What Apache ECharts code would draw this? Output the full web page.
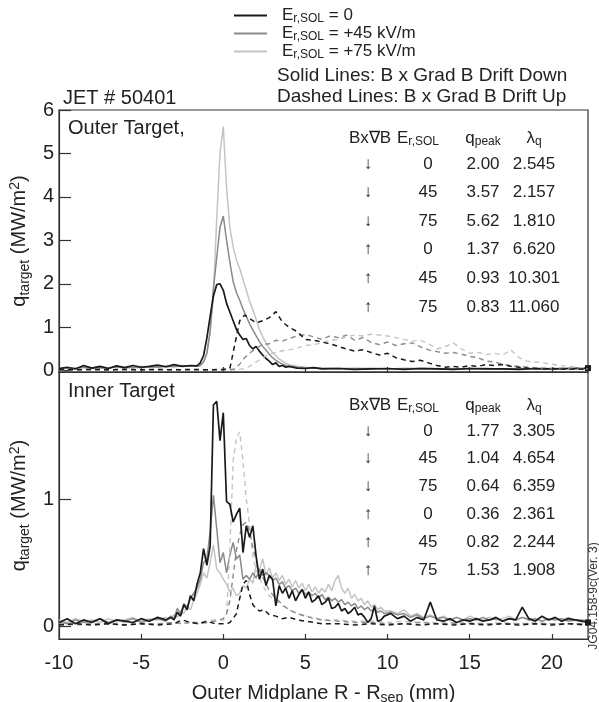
<!DOCTYPE html>
<html><head><meta charset="utf-8">
<script src="https://cdn.jsdelivr.net/npm/echarts@6/dist/echarts.min.js"></script>
<style>html,body{margin:0;padding:0;background:#fff}#c{width:599px;height:702px}</style>
</head><body><div id="c"></div>
<script>
// ---------- DATA ----------
const legendNames = ['E0', 'E45', 'E75'];
const legendValues = ['0', '+45 kV/m', '+75 kV/m'];

// Outer target, solid (BxgradB down)
const outerSolidX = [-10,-9.5,-9,-8.5,-8,-7.5,-7,-6.5,-6,-5.5,-5,-4.5,-4,-3.5,-3,-2.5,-2,
  -1.6,-1.4,-1.2,-1.0,-0.8,-0.6,-0.4,-0.2,0,0.2,0.4,0.6,0.8,1.0,1.2,1.4,1.6,1.8,2.0,2.2,2.4,2.6,2.8,3.0,3.2,3.4,3.6,3.8,4.0,
  4.5,5,5.5,6,7,8,9,10,11,12,13,14,15,16,17,18,19,20,21,22.2];
const outerDown0 = [0.05,0.08,0.04,0.12,0.06,0.10,0.05,0.11,0.07,0.12,0.08,0.10,0.13,0.09,0.14,0.10,0.12,
  0.11,0.18,0.35,0.75,1.25,1.72,1.98,2.00,1.85,1.55,1.35,1.15,0.95,0.82,0.72,0.74,0.58,0.50,0.56,0.45,0.36,0.28,0.22,0.14,0.18,0.10,0.12,0.08,0.10,
  0.06,0.05,0.07,0.04,0.05,0.03,0.04,0.05,0.03,0.05,0.04,0.03,0.05,0.04,0.04,0.03,0.05,0.04,0.05,0.06];
const outerDown45 = [0.04,0.06,0.05,0.08,0.05,0.07,0.06,0.09,0.06,0.08,0.07,0.09,0.08,0.10,0.09,0.11,0.10,
  0.10,0.12,0.20,0.40,0.90,1.90,2.60,3.30,3.56,3.00,2.50,2.05,1.80,1.62,1.42,1.25,1.08,0.94,0.80,0.67,0.56,0.47,0.38,0.30,0.24,0.19,0.15,0.12,0.10,
  0.08,0.07,0.06,0.05,0.05,0.04,0.05,0.04,0.05,0.04,0.04,0.05,0.04,0.05,0.04,0.05,0.04,0.04,0.05,0.05];
const outerDown75 = [0.05,0.07,0.06,0.08,0.07,0.09,0.07,0.08,0.09,0.07,0.10,0.08,0.11,0.09,0.10,0.12,0.11,
  0.10,0.12,0.20,0.40,0.90,1.70,3.50,5.00,5.62,4.20,3.30,2.85,2.55,2.35,2.10,1.85,1.60,1.40,1.18,0.95,0.78,0.64,0.52,0.42,0.34,0.27,0.22,0.17,0.14,
  0.10,0.08,0.07,0.06,0.05,0.06,0.05,0.04,0.05,0.06,0.05,0.04,0.05,0.05,0.04,0.05,0.04,0.05,0.04,0.05];

// Outer target, dashed (BxgradB up)
const outerDashedX = [-10,-9,-8,-7,-6,-5,-4,-3,-2,-1,0,0.4,0.7,1.0,1.3,1.6,2.0,2.4,2.8,3.2,3.6,4.0,
  4.5,5.0,5.5,6.0,6.5,7.0,7.5,8.0,8.5,9.0,9.5,10.0,10.5,11.0,11.5,12.0,12.5,13.0,13.5,14.0,14.5,15.0,15.5,16.0,16.5,17.0,17.5,18.0,18.5,19.0,19.5,20.0,20.5,21.0,21.5,22.2];
const outerUp0 = [0.03,0.02,0.03,0.02,0.03,0.02,0.03,0.02,0.03,0.02,0.03,0.05,0.60,1.15,1.28,1.20,1.10,1.15,1.22,1.36,1.12,1.00,
  0.90,0.72,0.70,0.66,0.62,0.56,0.50,0.45,0.48,0.42,0.36,0.40,0.30,0.25,0.21,0.24,0.18,0.12,0.08,0.10,
  0.08,0.12,0.10,0.14,0.12,0.14,0.10,0.08,0.06,0.05,0.04,0.05,0.04,0.03,0.04,0.03];
const outerUp45 = [0.02,0.03,0.02,0.02,0.03,0.02,0.02,0.03,0.02,0.02,0.02,0.02,0.04,0.15,0.30,0.40,0.52,0.60,0.62,0.70,0.68,0.74,
  0.80,0.83,0.78,0.72,0.80,0.76,0.82,0.70,0.76,0.65,0.60,0.66,0.58,0.62,0.64,0.55,0.48,0.44,0.40,0.42,
  0.38,0.33,0.30,0.22,0.20,0.15,0.12,0.10,0.08,0.07,0.06,0.05,0.06,0.05,0.04,0.04];
const outerUp75 = [0.02,0.02,0.03,0.02,0.02,0.02,0.03,0.02,0.02,0.02,0.02,0.02,0.02,0.03,0.05,0.10,0.20,0.30,0.38,0.42,0.46,0.48,
  0.52,0.58,0.60,0.64,0.70,0.72,0.78,0.82,0.80,0.84,0.82,0.80,0.76,0.72,0.68,0.70,0.62,0.50,0.55,0.64,
  0.50,0.40,0.42,0.37,0.40,0.36,0.48,0.30,0.22,0.20,0.18,0.15,0.12,0.10,0.08,0.06];

// Inner target, solid
const innerSolidX = [-10,-9.5,-9,-8.5,-8,-7.5,-7,-6.5,-6,-5.5,-5,-4.5,-4,-3.5,
  -3.2,-3.0,-2.8,-2.6,-2.4,-2.2,-2.0,-1.8,-1.6,-1.4,-1.2,-1.0,-0.8,-0.6,-0.4,-0.2,0,0.2,0.4,0.6,
  0.8,1.0,1.2,1.4,1.6,1.8,2.0,2.2,2.4,2.6,2.8,3.0,3.2,3.4,3.6,3.8,4.0,4.2,4.4,4.6,
  4.8,5.0,5.2,5.4,5.6,5.8,6.0,6.2,6.4,6.6,6.8,7.0,7.2,7.4,7.6,7.8,8.0,8.2,8.4,8.6,8.8,9.0,9.2,9.4,9.6,9.8,
  10.2,10.6,11.0,11.4,11.8,12.2,12.6,13.0,13.4,13.8,14.2,14.6,15.0,15.4,15.8,16.2,16.6,17.0,17.4,17.8,
  18.2,18.6,19.0,19.4,19.8,20.2,20.6,21.0,21.4,21.8,22.2];
const innerDown0 = [0.03,0.06,0.02,0.05,0.03,0.06,0.02,0.05,0.04,0.03,0.06,0.04,0.07,0.05,
  0.07,0.05,0.11,0.08,0.17,0.13,0.24,0.20,0.33,0.42,0.61,0.48,0.63,1.74,1.77,1.46,1.68,0.98,0.96,0.82,
  0.88,0.93,0.58,0.79,0.70,0.79,0.55,0.37,0.45,0.32,0.40,0.37,0.16,0.32,0.26,0.30,0.22,0.28,0.20,0.25,
  0.29,0.22,0.27,0.19,0.21,0.24,0.17,0.19,0.22,0.14,0.15,0.18,0.12,0.14,0.10,0.12,0.15,0.09,0.10,0.07,0.03,0.06,0.16,0.04,0.05,0.08,
  0.10,0.06,0.08,0.04,0.07,0.05,0.19,0.05,0.04,0.06,0.03,0.05,0.04,0.06,0.04,0.05,0.07,0.04,0.06,0.05,
  0.15,0.06,0.04,0.08,0.05,0.07,0.04,0.06,0.05,0.04,0.03];
const innerDown45 = [0.04,0.02,0.05,0.03,0.04,0.06,0.03,0.05,0.04,0.06,0.03,0.05,0.06,0.04,
  0.08,0.06,0.14,0.10,0.18,0.15,0.22,0.26,0.30,0.37,0.50,0.53,0.74,1.03,0.77,0.50,0.58,0.42,0.56,0.66,
  0.53,0.56,0.37,0.40,0.37,0.42,0.38,0.45,0.40,0.42,0.40,0.36,0.38,0.33,0.35,0.30,0.32,0.28,0.30,0.26,
  0.29,0.25,0.27,0.24,0.26,0.22,0.25,0.21,0.23,0.20,0.22,0.19,0.21,0.17,0.19,0.16,0.18,0.14,0.16,0.13,0.15,0.12,0.14,0.11,0.12,0.10,
  0.11,0.09,0.10,0.07,0.09,0.06,0.08,0.06,0.07,0.05,0.07,0.05,0.06,0.05,0.07,0.05,0.06,0.04,0.06,0.05,
  0.07,0.05,0.06,0.04,0.06,0.05,0.06,0.04,0.05,0.05,0.04];
const innerDown75 = [0.05,0.03,0.06,0.04,0.05,0.03,0.06,0.04,0.05,0.07,0.04,0.06,0.05,0.07,
  0.06,0.09,0.07,0.12,0.10,0.16,0.13,0.20,0.26,0.33,0.42,0.38,0.50,0.64,0.45,0.42,0.37,0.33,0.27,0.30,
  0.24,0.26,0.32,0.30,0.37,0.34,0.48,0.44,0.53,0.40,0.46,0.38,0.42,0.36,0.40,0.33,0.37,0.31,0.36,0.30,
  0.34,0.28,0.33,0.27,0.31,0.26,0.30,0.27,0.33,0.28,0.36,0.40,0.30,0.26,0.30,0.22,0.25,0.20,0.22,0.17,0.20,0.15,0.17,0.13,0.15,0.12,
  0.12,0.10,0.13,0.08,0.10,0.07,0.09,0.06,0.08,0.05,0.07,0.05,0.08,0.06,0.05,0.07,0.05,0.06,0.08,0.05,
  0.07,0.06,0.05,0.07,0.05,0.06,0.05,0.07,0.05,0.04,0.05];

// Inner target, dashed
const innerDashedX = [-10,-9,-8,-7,-6,-5,-4,-3,-2.5,-2,-1.5,-1,-0.5,0,0.2,0.4,0.6,0.8,1.0,1.2,1.4,1.6,1.8,2.0,2.2,
  2.5,2.8,3.2,3.6,4.0,4.5,5.0,5.5,6.0,7,8,9,10,11,12,13,14,15,16,17,18,19,20,21,22.2];
const innerUp0 = [0.01,0.02,0.01,0.02,0.01,0.02,0.01,0.02,0.05,0.03,0.02,0.04,0.02,0.02,
  0.02,0.03,0.06,0.10,0.22,0.33,0.36,0.25,0.17,0.14,0.12,0.13,0.09,0.08,0.06,0.07,0.05,0.04,0.03,0.02,
  0.02,0.01,0.02,0.01,0.02,0.01,0.02,0.01,0.02,0.01,0.02,0.01,0.02,0.01,0.02,0.01];
const innerUp45 = [0.02,0.01,0.02,0.02,0.01,0.02,0.02,0.03,0.02,0.03,0.02,0.03,0.04,0.06,
  0.10,0.20,0.40,0.60,0.72,0.80,0.82,0.75,0.62,0.52,0.44,0.36,0.28,0.22,0.17,0.13,0.10,0.08,0.06,0.05,
  0.04,0.03,0.03,0.02,0.02,0.03,0.02,0.02,0.02,0.02,0.02,0.02,0.02,0.02,0.02,0.02];
const innerUp75 = [0.02,0.03,0.02,0.02,0.03,0.02,0.02,0.03,0.02,0.04,0.03,0.04,0.05,0.05,
  0.10,0.60,1.30,1.48,1.53,1.30,1.00,0.80,0.55,0.45,0.38,0.30,0.24,0.20,0.16,0.13,0.10,0.08,0.07,0.05,
  0.05,0.04,0.04,0.03,0.04,0.03,0.03,0.03,0.03,0.02,0.03,0.02,0.03,0.02,0.02,0.02];

// Tables
const tableDir = ['\u2193','\u2193','\u2193','\u2191','\u2191','\u2191'];
const tableEr = ['0','45','75','0','45','75'];
const outerQpeak = ['2.00','3.57','5.62','1.37','0.93','0.83'];
const outerLambda = ['2.545','2.157','1.810','6.620','10.301','11.060'];
const innerQpeak = ['1.77','1.04','0.64','0.36','0.82','1.53'];
const innerLambda = ['3.305','4.654','6.359','2.361','2.244','1.908'];

// Axis ticks
const xTicks = [-10,-5,0,5,10,15,20];
const outerYTicks = [0,1,2,3,4,5,6];
const innerYTicks = [0,1];

// ---------- CHART ----------
const FONT = '"Liberation Sans", Arial, Helvetica, sans-serif';
const C_BLACK = '#1a1a1a', C_GRAY = '#8a8a8a', C_LIGHT = '#c4c4c4', C_AX = '#333';

function pts(xs, ys, mark) {
  const d = xs.map((x, i) => [x, ys[i]]);
  if (mark) {
    const last = d.pop();
    d.push({ value: last, symbol: 'rect', symbolSize: 6, itemStyle: { color: C_BLACK } });
  }
  return d;
}
function line(name, gi, xs, ys, color, width, dashed, z, mark) {
  return {
    name: name, type: 'line', xAxisIndex: gi, yAxisIndex: gi,
    data: pts(xs, ys, mark), symbol: 'none', showSymbol: true, showAllSymbol: true,
    lineStyle: { color: color, width: width, type: dashed ? [5, 4] : 'solid' },
    itemStyle: { color: color }, z: z, silent: true, animation: false, clip: !mark
  };
}

const subRich = {
  m: { fontSize: 20, fontFamily: FONT, color: '#222', lineHeight: 24, verticalAlign: 'middle' },
  s: { fontSize: 14, fontFamily: FONT, color: '#222', lineHeight: 10, verticalAlign: 'bottom' },
  p: { fontSize: 14, fontFamily: FONT, color: '#222', lineHeight: 10, verticalAlign: 'top' }
};
const yName = '{m|q}{s|target}{m| (MW/m}{p|2}{m|)}';

function yAxis(gi, min, max, ticks) {
  return {
    gridIndex: gi, type: 'value', min: min, max: max,
    axisLine: { show: true, onZero: false, lineStyle: { color: C_AX, width: 1.2 } },
    axisTick: { show: true, inside: true, length: 12, customValues: ticks, lineStyle: { color: C_AX, width: 1.2 } },
    axisLabel: { show: true, customValues: ticks, fontSize: 20, fontFamily: FONT, color: '#222', margin: 5 },
    splitLine: { show: false },
    name: yName, nameLocation: 'middle', nameRotate: 90, nameGap: 15,
    nameTextStyle: { rich: subRich }
  };
}
function xAxis(gi, labels) {
  const a = {
    gridIndex: gi, type: 'value', min: -10, max: 22.2,
    axisLine: { show: true, onZero: false, lineStyle: { color: C_AX, width: 1.2 } },
    axisTick: { show: true, inside: true, length: 5, customValues: xTicks.slice(1), lineStyle: { color: C_AX, width: 1.2 } },
    axisLabel: { show: labels, customValues: xTicks, fontSize: 20, fontFamily: FONT, color: '#222', margin: 14 },
    splitLine: { show: false }
  };
  if (labels) {
    a.name = '{m|Outer Midplane R - R}{s|sep}{m| (mm)}';
    a.nameLocation = 'middle';
    a.nameGap = 42;
    a.nameTextStyle = { rich: subRich };
  }
  return a;
}

const tRich = {
  m: { fontSize: 17, fontFamily: FONT, fill: '#222', color: '#222', lineHeight: 20, verticalAlign: 'middle' },
  s: { fontSize: 12, fontFamily: FONT, fill: '#222', color: '#222', lineHeight: 9, verticalAlign: 'bottom' }
};
function txt(x, y, text, size, align, rich) {
  const st = { text: text, fontSize: size, fontFamily: FONT, fill: '#222', align: align || 'left', verticalAlign: 'middle' };
  if (rich) st.rich = rich;
  return { type: 'text', x: x, y: y, silent: true, style: st };
}
function table(y0, step, hdrY, qpk, lam) {
  const g = [
    txt(370, hdrY, 'Bx\u2207B', 17, 'center'),
    txt(418, hdrY, '{m|E}{s|r,SOL}', 17, 'center', tRich),
    txt(483, hdrY, '{m|q}{s|peak}', 17, 'center', tRich),
    txt(534, hdrY, '{m|\u03bb}{s|q}', 17, 'center', tRich)
  ];
  for (let i = 0; i < 6; i++) {
    const y = y0 + i * step;
    g.push(txt(368, y, tableDir[i], 17, 'center'));
    g.push(txt(428, y, tableEr[i], 17, 'center'));
    g.push(txt(483, y, qpk[i], 17, 'center'));
    g.push(txt(534, y, lam[i], 17, 'center'));
  }
  return g;
}

const graphics = [].concat(
  [
    txt(63, 98, 'JET # 50401', 20),
    txt(68, 128, 'Outer Target,', 20),
    txt(68, 391, 'Inner Target', 20),
    txt(277, 76, 'Solid Lines: B x Grad B Drift Down', 19),
    txt(277, 97, 'Dashed Lines: B x Grad B Drift Up', 19),
    { type: 'text', x: 594, y: 596, rotation: Math.PI / 2, silent: true,
      style: { text: 'JG04.158-9c(Ver. 3)', fontSize: 12, fontFamily: FONT, fill: '#333', align: 'center', verticalAlign: 'middle' } }
  ],
  table(164, 28.6, 138, outerQpeak, outerLambda),
  table(431, 27.8, 405, innerQpeak, innerLambda)
);

const series = [
  line('E75', 0, outerSolidX, outerDown75, C_LIGHT, 1.5, false, 2),
  line('E45', 0, outerSolidX, outerDown45, C_GRAY, 1.5, false, 3),
  line('E0', 0, outerSolidX, outerDown0, C_BLACK, 1.7, false, 4, true),
  line('E75 up', 0, outerDashedX, outerUp75, C_LIGHT, 1.4, true, 5),
  line('E45 up', 0, outerDashedX, outerUp45, C_GRAY, 1.4, true, 6),
  line('E0 up', 0, outerDashedX, outerUp0, C_BLACK, 1.5, true, 7),
  line('E75', 1, innerSolidX, innerDown75, C_LIGHT, 1.5, false, 2),
  line('E45', 1, innerSolidX, innerDown45, C_GRAY, 1.5, false, 3),
  line('E75 up', 1, innerDashedX, innerUp75, C_LIGHT, 1.4, true, 5),
  line('E45 up', 1, innerDashedX, innerUp45, C_GRAY, 1.4, true, 6),
  line('E0 up', 1, innerDashedX, innerUp0, C_BLACK, 1.5, true, 7),
  line('E0', 1, innerSolidX, innerDown0, C_BLACK, 1.7, false, 8, true)
];

const option = {
  animation: false,
  backgroundColor: '#fff',
  textStyle: { fontFamily: FONT },
  grid: [
    { left: 59, top: 110, width: 529, height: 262, show: true, borderColor: C_AX, borderWidth: 1.2, backgroundColor: 'transparent', containLabel: false, outerBoundsMode: 'none' },
    { left: 59, top: 372, width: 529, height: 267, show: true, borderColor: C_AX, borderWidth: 1.2, backgroundColor: 'transparent', containLabel: false, outerBoundsMode: 'none' }
  ],
  legend: {
    data: legendNames, orient: 'vertical', left: 229, top: 2,
    icon: 'rect', itemWidth: 33, itemHeight: 2, itemGap: 0, selectedMode: false,
    formatter: function (n) { return '{e|E}{s|r,SOL}{e| = ' + legendValues[legendNames.indexOf(n)] + '}'; },
    textStyle: {
      padding: [0, 0, 0, 10],
      rich: {
        e: { fontSize: 17, fontFamily: FONT, color: '#222', lineHeight: 19, verticalAlign: 'middle' },
        s: { fontSize: 12, fontFamily: FONT, color: '#222', lineHeight: 9, verticalAlign: 'bottom' }
      }
    }
  },
  xAxis: [xAxis(0, false), xAxis(1, true)],
  yAxis: [yAxis(0, -0.03, 6, outerYTicks), yAxis(1, -0.1, 2.0, innerYTicks)],
  series: series,
  graphic: graphics
};

const chart = echarts.init(document.getElementById('c'), null, { renderer: 'canvas' });
chart.setOption(option);
</script></body></html>
